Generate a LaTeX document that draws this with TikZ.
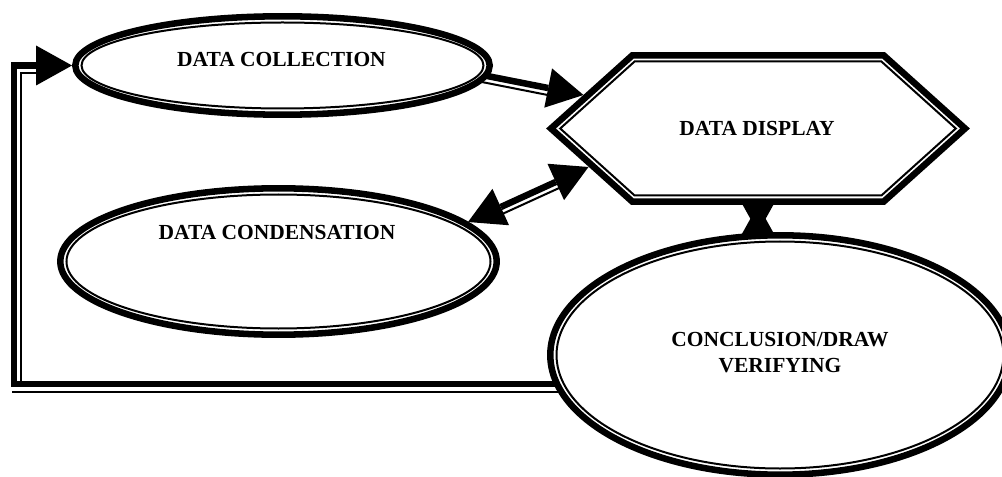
\documentclass[tikz,border=0pt]{standalone}
\usepackage{fontspec}
\setmainfont{Liberation Serif}
\usetikzlibrary{shapes.geometric,arrows.meta,calc}
\pgfdeclarelayer{back}
\pgfdeclarelayer{conn}
\pgfsetlayers{back,conn,main}
\begin{document}
\begin{tikzpicture}[x=0.75pt,y=-0.75pt,
  thickln/.style={line width=4.9pt},
  thinln/.style={line width=1.5pt},
  ellbox/.style={ellipse, draw, line width=4.9pt, fill=white, inner sep=0pt, outer sep=2.45pt},
  lbl/.style={font=\fontsize{16.1pt}{19.5pt}\selectfont\bfseries, inner sep=0pt, align=center},
  bigtip/.style={-{Triangle[length=27pt,width=30pt,line width=0pt]}},
  bigtips/.style={{Triangle[length=27pt,width=30pt,line width=0pt]}-{Triangle[length=27pt,width=30pt,line width=0pt]}},
]
\useasboundingbox (0,0) rectangle (1002,477);
\begin{pgfonlayer}{back}
\fill[white] (0,0) rectangle (1002,477);
\end{pgfonlayer}
\clip (0,0) rectangle (1002,477);

% ---- shapes ----
\node[ellbox, minimum width=310.8pt, minimum height=73.8pt] (dc) at (282.5,65.5) {};
\draw[thinln] (dc.center) ellipse [x radius=201, y radius=43];
\node[lbl, anchor=base] (dct) at (281.5,66.5) {DATA COLLECTION};

\node[ellbox, minimum width=327.3pt, minimum height=109.8pt] (dk) at (278.5,261.5) {};
\draw[thinln] (dk.center) ellipse [x radius=212, y radius=67];
\node[lbl, anchor=base] (dkt) at (277,239) {DATA CONDENSATION};

\node[ellbox, minimum width=344.55pt, minimum height=179.55pt] (cc) at (780,355) {};
\draw[thinln] (cc.center) ellipse [x radius=223.5, y radius=113.5];
\node[lbl] (cct) at (780,353) {CONCLUSION/DRAW\\VERIFYING};

\begin{scope}[shift={(758,128.5)}]
\draw[thickln, fill=white, line join=miter] (-207,0) -- (-125.6,-73.2) -- (125.6,-73.2) -- (207,0) -- (125.6,73.2) -- (-125.6,73.2) -- cycle;
\draw[thinln, line join=miter] (-197.8,0) -- (-123.4,-67) -- (123.4,-67) -- (197.8,0) -- (123.4,67) -- (-123.4,67) -- cycle;
\end{scope}
\node[lbl, anchor=base] (dd) at (757,136) {DATA DISPLAY};

% ---- connector end points ----
\coordinate (ddUL) at (583.5,95);
\coordinate (ddLL) at (588.5,167);
\coordinate (ddB) at (758,205);
\coordinate (ccT) at (758,232.5);
\coordinate (dkR) at (468,222);
\coordinate (dcR) at (436.5,66);
\coordinate (ccL) at (600,384);
\coordinate (lpB) at (14,384);

% ---- connectors ----
\begin{pgfonlayer}{conn}
% loop back from conclusion to data collection
\draw[thickln, bigtip, line join=miter] (ccL) -- (lpB) |- (dc.west);
\draw[thinln] ($(ccL)+(0,7.5)$) -- ($(lpB)+(-2.5,7.5)$);
\draw[thinln] ($(lpB)+(7,-3)$) |- ($(dc.west)+(-30,7.5)$);
% collection -> display
\draw[thinln] ($(dcR)!5.2pt!-90:(ddUL)$) -- ($ ($(ddUL)!24pt!(dcR)$)!5.2pt!90:(dcR) $);
\draw[thickln, bigtip] (dcR) -- (ddUL);
% condensation <-> display
\draw[thinln] ($ ($(dkR)!24pt!(ddLL)$)!5.2pt!-90:(ddLL) $) -- ($ ($(ddLL)!24pt!(dkR)$)!5.2pt!90:(dkR) $);
\draw[thickln, bigtips] (dkR) -- (ddLL);
% display <-> conclusion (hourglass)
\draw[thickln, bigtip] ($(ddB)+(0,40)$) -- (ddB);
\draw[thickln, bigtip] ($(ccT)+(0,-40)$) -- (ccT);
\end{pgfonlayer}
\end{tikzpicture}
\end{document}
